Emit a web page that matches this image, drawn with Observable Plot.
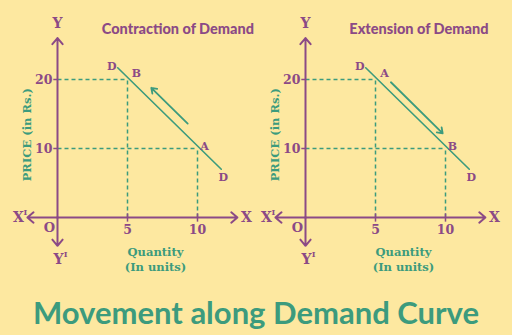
<!DOCTYPE html>
<html><head><meta charset="utf-8">
<script src="https://cdn.jsdelivr.net/npm/d3@7"></script>
<script src="https://cdn.jsdelivr.net/npm/@observablehq/plot@0.6"></script>
<style>
html,body{margin:0;padding:0;background:#fde8a0;}
#wrap{width:512px;height:335px;background:#fde8a0;position:relative;overflow:hidden;}
#row{display:flex;}
#title{position:absolute;left:0;top:290px;width:512px;height:45px;line-height:45px;text-align:center;
 font-family:Lato,"Open Sans",sans-serif;font-weight:700;font-size:31px;color:#3c9b7d;}
</style></head>
<body><div id="wrap"><div id="row"></div><div id="title">Movement along Demand Curve</div></div>
<script>
// ---- data ----
const panelTitles = ["Contraction of Demand", "Extension of Demand"];
const quantityTicks = [5, 10];
const priceTicks = [10, 20];
const demandCurve = [{q: 4.3, p: 21.7}, {q: 11.7, p: 7.0}];
const leftPoints = [{label: "B", q: 5, p: 20}, {label: "A", q: 10, p: 10}];
const rightPoints = [{label: "A", q: 5, p: 20}, {label: "B", q: 10, p: 10}];
const leftMove = [{q1: 9.3, p1: 13.6, q2: 6.7, p2: 18.8}];
const rightMove = [{q1: 6.1, p1: 19.6, q2: 9.8, p2: 12.2}];
const axisExtent = {qMin: -2.15, qMax: 12.85, pMin: -4.1, pMax: 26};
const quantityTitle = ["Quantity", "(In units)"];
const priceTitle = "PRICE (in Rs.)";

const purple = "#8b4a86";
const green = "#3c9b7d";
const serif = "DejaVu Serif";

function panel(title, points, move, originPx, titleCenter) {
  const e = axisExtent;
  const txt = (data, opts) => Plot.text(data, {fontFamily: serif, fontWeight: "bold", fill: purple, ...opts});
  return Plot.plot({
    width: 256, height: 290,
    x: {domain: [0, 10], range: [originPx, originPx + 140], axis: null},
    y: {domain: [0, 20], range: [217, 79], axis: null},
    style: {background: "transparent", overflow: "visible"},
    marks: [
      // dashed guides
      Plot.link(points, {x1: 0, y1: d => d.p, x2: d => d.q, y2: d => d.p, stroke: green, strokeWidth: 1.5, strokeDasharray: "4,3"}),
      Plot.link(points, {x1: d => d.q, y1: 0, x2: d => d.q, y2: d => d.p, stroke: green, strokeWidth: 1.5, strokeDasharray: "4,3"}),
      // axes
      Plot.arrow([[0, 0, e.qMin, 0], [0, 0, e.qMax, 0], [0, 0, 0, e.pMax], [0, 0, 0, e.pMin]],
        {x1: d => d[0], y1: d => d[1], x2: d => d[2], y2: d => d[3], stroke: purple, strokeWidth: 2, headLength: 6, headAngle: 80}),
      // ticks
      Plot.link(quantityTicks, {x1: d => d, x2: d => d, y1: -0.6, y2: 0.6, stroke: purple, strokeWidth: 1.5}),
      Plot.link(priceTicks, {x1: -0.3, x2: 0, y1: d => d, y2: d => d, stroke: purple, strokeWidth: 1.5}),
      txt(quantityTicks, {x: d => d, y: 0, dy: 12, fontSize: 12.5, text: d => String(d)}),
      txt(priceTicks, {x: 0, y: d => d, dx: -5, fontSize: 12.5, textAnchor: "end", text: d => String(d)}),
      // demand curve
      Plot.line(demandCurve, {x: "q", y: "p", stroke: green, strokeWidth: 1.6}),
      Plot.arrow(move, {x1: "q1", y1: "p1", x2: "q2", y2: "p2", stroke: green, strokeWidth: 1.8, headLength: 5, headAngle: 70}),
      txt([demandCurve[0]], {x: "q", y: "p", text: () => "D", dx: -6, dy: -1, fontSize: 11}),
      txt([demandCurve[1]], {x: "q", y: "p", text: () => "D", dx: 2, dy: 8, fontSize: 11}),
      txt([points[0]], {x: "q", y: "p", text: "label", dx: 9, dy: -6, fontSize: 11}),
      txt([points[1]], {x: "q", y: "p", text: "label", dx: 7, dy: -2, fontSize: 11}),
      // axis letters
      txt(["X"], {x: e.qMax, y: 0, dx: 9, fontSize: 14, text: d => d}),
      txt(["X"], {x: e.qMin, y: 0, dx: -9, fontSize: 14, text: d => d}),
      txt(["I"], {x: e.qMin, y: 0, dx: -2, dy: -5, fontSize: 8, text: d => d}),
      txt(["Y"], {x: 0, y: e.pMax, dy: -15, fontSize: 14, text: d => d}),
      txt(["Y"], {x: 0, y: e.pMin, dx: 1, dy: 14, fontSize: 14, text: d => d}),
      txt(["I"], {x: 0, y: e.pMin, dx: 8, dy: 9, fontSize: 8, text: d => d}),
      txt(["O"], {x: 0, y: 0, dx: -8, dy: 10, fontSize: 13, text: d => d}),
      // axis titles
      Plot.text([quantityTitle[0]], {x: 7, y: 0, dy: 35, text: d => d, fontFamily: serif, fontWeight: "bold", fontSize: 11.5, fill: green}),
      Plot.text([quantityTitle[1]], {x: 7, y: 0, dy: 50, text: d => d, fontFamily: serif, fontWeight: "bold", fontSize: 11.5, fill: green}),
      Plot.text([priceTitle], {x: 0, y: 12, dx: -30, rotate: -90, text: d => d, fontFamily: serif, fontWeight: "bold", fontSize: 11.5, fill: green}),
      // panel title
      Plot.text([title], {x: titleCenter, y: 0, dy: -188, text: d => d, fontFamily: "Lato", fontWeight: 900, fontSize: 14.5, fill: purple})
    ]
  });
}

const row = document.getElementById("row");
row.appendChild(panel(panelTitles[0], leftPoints, leftMove, 57, 8.6));
row.appendChild(panel(panelTitles[1], rightPoints, rightMove, 49, 8.1));
</script></body></html>
